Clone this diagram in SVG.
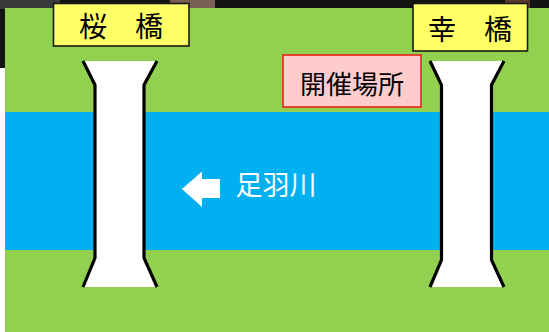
<svg xmlns="http://www.w3.org/2000/svg" width="549" height="332" viewBox="0 0 549 332">
  <defs>
    <style>
      .label { font-family: "Noto Sans CJK JP", "Noto Sans", sans-serif; text-anchor: middle; dominant-baseline: central; }
      .yellow { fill: #FFFF66; stroke: #1a1a1a; stroke-width: 1.6; }
      .pink { fill: #FFCCCC; stroke: #E8221B; stroke-width: 1.6; }
      .deck { fill: #FFFFFF; stroke: none; }
      .edge { fill: none; stroke: #000000; stroke-width: 3.2; stroke-linejoin: miter; }
    </style>
  </defs>
  <!-- background photo remnants -->
  <rect x="0" y="0" width="549" height="332" fill="#FFFFFF"/>
  <rect x="0" y="0" width="549" height="9" fill="#141414"/>
  <rect x="0" y="0" width="6" height="68" fill="#141414"/>
  <rect x="0" y="0" width="60" height="9" fill="#3a3a3a"/>
  <rect x="170" y="0" width="45" height="9" fill="#7a5f55"/>
  <rect x="505" y="0" width="25" height="9" fill="#5a3a2a"/>
  <!-- ground -->
  <rect x="5" y="8" width="544" height="324" fill="#92D050"/>
  <!-- river -->
  <rect x="5" y="112" width="544" height="138" fill="#00B0F0"/>

  <g id="bridge-sakura">
    <polygon class="deck" points="83,61 157,61 144,85 144,258 157,287 83,287 95,258 95,85"/>
    <polyline class="edge" points="83,61 95,85 95,258 83,287"/>
    <polyline class="edge" points="157,61 144,85 144,258 157,287"/>
  </g>
  <g id="bridge-saiwai">
    <polygon class="deck" points="430,61 504,61 491.5,85 491.5,260 504,287 430,287 441.5,260 441.5,85"/>
    <polyline class="edge" points="430,61 441.5,85 441.5,260 430,287"/>
    <polyline class="edge" points="504,61 491.5,85 491.5,260 504,287"/>
  </g>

  <g id="label-sakura">
    <rect class="yellow" x="53.5" y="3.5" width="135.5" height="42.5"/>
    <text class="label" x="121" y="25" font-size="28" fill="#000">桜　橋</text>
  </g>
  <g id="label-saiwai">
    <rect class="yellow" x="413" y="3.5" width="114.5" height="47.5"/>
    <text class="label" x="470" y="28" font-size="28" fill="#000">幸　橋</text>
  </g>
  <g id="label-venue">
    <rect class="pink" x="283" y="55" width="138" height="52"/>
    <text class="label" x="352" y="82" font-size="26" fill="#000">開催場所</text>
  </g>
  <g id="river-label">
    <polygon fill="#FFFFFF" points="182,189 202,171.5 202,179 220,179 220,198 202,198 202,207"/>
    <text class="label" x="276" y="183" font-size="27" fill="#FFFFFF">足羽川</text>
  </g>
</svg>
